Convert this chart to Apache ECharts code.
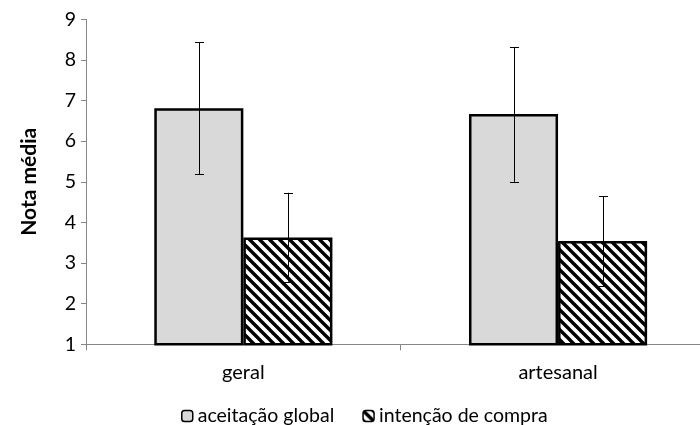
<!DOCTYPE html>
<html>
<head>
<meta charset="utf-8">
<script src="https://cdn.jsdelivr.net/npm/echarts@6/dist/echarts.min.js"></script>
<style>html,body{margin:0;padding:0;background:#fff;overflow:hidden;width:700px;height:425px;}#c{width:716px;height:425px;}</style>
</head>
<body>
<div id="c"></div>
<script>
var categories = ['geral', 'artesanal'];
var seriesNames = ['aceitação global', 'intenção de compra'];
var aceitacao = [6.81, 6.67];
var aceitacaoLow = [5.18, 5.00];
var aceitacaoHigh = [8.43, 8.32];
var intencao = [3.63, 3.54];
var intencaoLow = [2.54, 2.44];
var intencaoHigh = [4.73, 4.64];
var yTicks = [1, 2, 3, 4, 5, 6, 7, 8, 9];

var FONT = 'Lato';
var GAP = 0.434;

function hatch() {
  var c = document.createElement('canvas');
  c.width = 10; c.height = 10;
  var g = c.getContext('2d');
  g.fillStyle = '#fff';
  g.fillRect(0, 0, 10, 10);
  g.strokeStyle = '#000';
  g.lineWidth = 3.4;
  g.beginPath();
  g.moveTo(-2, -2); g.lineTo(12, 12);
  g.moveTo(-12, -2); g.lineTo(2, 12);
  g.moveTo(8, -2); g.lineTo(22, 12);
  g.stroke();
  return c;
}
var pattern = { image: hatch(), repeat: 'repeat' };

function errSeries(low, high, side) {
  return {
    type: 'custom',
    silent: true,
    z: 5,
    data: categories.map(function (c, i) { return [i, low[i], high[i]]; }),
    renderItem: function (params, api) {
      var i = api.value(0);
      var catW = api.size([1, 0])[0];
      var bw = catW * (1 - GAP) / 2;
      var pLow = api.coord([i, api.value(1)]);
      var pHigh = api.coord([i, api.value(2)]);
      var x = Math.round(pLow[0] + side * bw / 2) + 0.5;
      var cap = 4.5;
      var st = { stroke: '#000', lineWidth: 1 };
      return {
        type: 'group',
        children: [
          { type: 'line', shape: { x1: x, y1: pLow[1], x2: x, y2: pHigh[1] }, style: st },
          { type: 'line', shape: { x1: x - cap, y1: Math.round(pLow[1]) + 0.5, x2: x + cap, y2: Math.round(pLow[1]) + 0.5 }, style: st },
          { type: 'line', shape: { x1: x - cap, y1: Math.round(pHigh[1]) + 0.5, x2: x + cap, y2: Math.round(pHigh[1]) + 0.5 }, style: st }
        ]
      };
    }
  };
}

var chart = echarts.init(document.getElementById('c'), null, { renderer: 'canvas' });
chart.setOption({
  animation: false,
  backgroundColor: '#fff',
  grid: { left: 86, top: 19.3, right: 0.6, height: 325 },
  legend: {
    data: seriesNames,
    left: 176,
    top: 401,
    itemWidth: 11,
    itemHeight: 11,
    itemGap: 28,
    textStyle: { fontFamily: FONT, fontSize: 19.5, color: '#000', padding: [0, 0, 0, 0] },
    itemStyle: { borderColor: '#000', borderWidth: 1.5 }
  },
  xAxis: {
    type: 'category',
    data: categories,
    axisLine: { lineStyle: { color: '#868686', width: 1 } },
    axisTick: { show: true, length: 6, lineStyle: { color: '#868686' } },
    axisLabel: { fontFamily: FONT, fontSize: 20, color: '#000', margin: 18 },
    splitLine: { show: false }
  },
  yAxis: {
    type: 'value',
    min: yTicks[0],
    max: yTicks[yTicks.length - 1],
    interval: 1,
    name: 'Nota média',
    nameLocation: 'middle',
    nameGap: 46,
    nameTextStyle: { fontFamily: FONT, fontSize: 21, fontWeight: 'bold', color: '#000' },
    axisLine: { show: true, lineStyle: { color: '#868686', width: 1 } },
    axisTick: { show: true, length: 5, lineStyle: { color: '#868686' } },
    axisLabel: { fontFamily: FONT, fontSize: 19.5, color: '#000', margin: 10 },
    splitLine: { show: false }
  },
  series: [
    {
      name: seriesNames[0],
      type: 'bar',
      data: aceitacao,
      barGap: '0%',
      barCategoryGap: (GAP * 100) + '%',
      itemStyle: { color: '#d9d9d9', borderColor: '#000', borderWidth: 2.5 }
    },
    {
      name: seriesNames[1],
      type: 'bar',
      data: intencao,
      barGap: '0%',
      barCategoryGap: (GAP * 100) + '%',
      itemStyle: { color: pattern, borderColor: '#000', borderWidth: 2.5 }
    },
    errSeries(aceitacaoLow, aceitacaoHigh, -1),
    errSeries(intencaoLow, intencaoHigh, 1)
  ]
});
</script>
</body>
</html>
